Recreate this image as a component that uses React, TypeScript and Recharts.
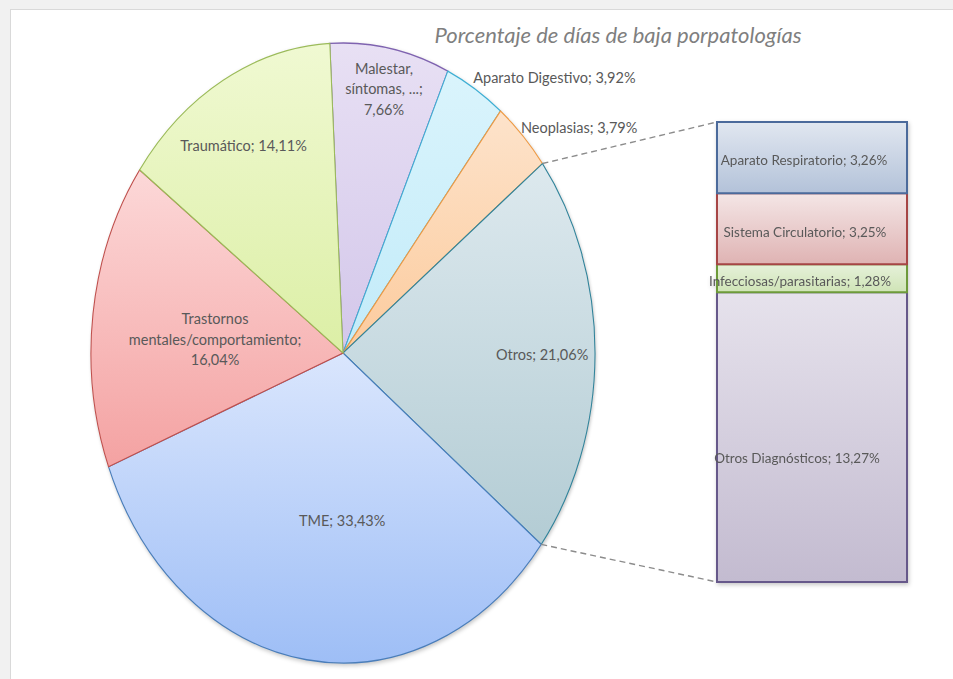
import { Bar, BarChart, Cell, LabelList, Pie, PieChart, XAxis, YAxis } from 'recharts'

// pie slices, clockwise from just left of 12 o'clock
const pieCategories = [
  'Malestar,\nsíntomas, ...',
  'Aparato Digestivo',
  'Neoplasias',
  'Otros',
  'TME',
  'Trastornos\nmentales/comportamiento',
  'Traumático',
]
const pieValues = [7.66, 3.92, 3.79, 21.06, 33.43, 16.04, 14.11]
const splitName = 'Otros'

// breakdown of "Otros", listed bottom-up as stacked
const barCategories = [
  'Otros Diagnósticos',
  'Infecciosas/parasitarias',
  'Sistema Circulatorio',
  'Aparato Respiratorio',
]
const barValues = [13.27, 1.28, 3.25, 3.26]

const title = 'Porcentaje de días de baja porpatologías'

const pieData = pieCategories.map((name, i) => ({ name, value: pieValues[i] }))
const barRow: Record<string, number | string> = { name: splitName }
barCategories.forEach((c, i) => {
  barRow[c] = barValues[i]
})
const barTotal = barValues.reduce((s, v) => s + v, 0)

const FONT = 'Lato, "Liberation Sans", sans-serif'
const TEXT = '#595959'
const CX = 343
const CY = 353
const R = 310
const SX = 0.813 // the pie is drawn squashed sideways
const BAR_LEFT = 717
const BAR_RIGHT = 907
const BAR_TOP = 122
const BAR_BOTTOM = 582
const PAD = 30

const pieStyles = [
  { top: '#e8e0f4', bottom: '#d3c7ea', stroke: '#7f63b0' },
  { top: '#daf4fc', bottom: '#c2ebf9', stroke: '#3eafd4' },
  { top: '#fde3cb', bottom: '#fccb9d', stroke: '#ef9a43' },
  { top: '#dde9ee', bottom: '#b3ccd4', stroke: '#31849b' },
  { top: '#dae6fd', bottom: '#9ebef6', stroke: '#4a7ebb' },
  { top: '#fcd8d8', bottom: '#f4a2a2', stroke: '#c0504d' },
  { top: '#f0f9d2', bottom: '#dcefa6', stroke: '#9bbb59' },
]

const pieLabelPlacement = [
  { r: 0.87, anchor: 'middle', dx: 0, dy: 0 },
  { r: 1.046, anchor: 'start', dx: -8, dy: 0 },
  { r: 1.04, anchor: 'start', dx: -9, dy: 0 },
  { r: 0.79, anchor: 'middle', dx: 0, dy: 0 },
  { r: 0.545, anchor: 'middle', dx: 19, dy: 0 },
  { r: 0.512, anchor: 'middle', dx: 0, dy: 6 },
  { r: 0.763, anchor: 'middle', dx: -8, dy: 0 },
]

const barStyles = [
  { top: '#e6e2ec', bottom: '#c3bbd0', stroke: '#66588a' },
  { top: '#e6f1da', bottom: '#cfe4b6', stroke: '#6d9a3a' },
  { top: '#f4e6e6', bottom: '#dfb3b3', stroke: '#a64545' },
  { top: '#e1e7f0', bottom: '#b3c2d9', stroke: '#4b6a9b' },
]
const barLabelOffset = [
  { dx: -15, dy: 21 },
  { dx: -12, dy: 3 },
  { dx: -7, dy: 3 },
  { dx: -8, dy: 2 },
]

const pct = (v: number) => `${v.toFixed(2).replace('.', ',')}%`

function renderPieLabel(props: any) {
  const { cx, cy, midAngle, outerRadius, index, payload, startAngle, endAngle } = props
  const place = pieLabelPlacement[index]
  const rad = Math.PI / 180
  const r = outerRadius * place.r
  const x = cx + SX * r * Math.cos(-midAngle * rad) + place.dx
  const y = cy + r * Math.sin(-midAngle * rad) + place.dy
  const name: string = payload.name
  const parts = name.split('\n')
  let lines: string[]
  if (parts.length > 1) {
    lines = [...parts.slice(0, -1), parts[parts.length - 1] + ';', pct(payload.value)]
  } else {
    lines = [`${name}; ${pct(payload.value)}`]
  }
  const lh = 20.5
  let connectors = null
  if (name === splitName) {
    const p1 = {
      x: cx + SX * outerRadius * Math.cos(-startAngle * rad),
      y: cy + outerRadius * Math.sin(-startAngle * rad),
    }
    const p2 = {
      x: cx + SX * outerRadius * Math.cos(-endAngle * rad),
      y: cy + outerRadius * Math.sin(-endAngle * rad),
    }
    connectors = (
      <g stroke='#8c8c8c' strokeWidth={1.4} strokeDasharray='6 4'>
        <line x1={p1.x} y1={p1.y} x2={BAR_LEFT} y2={BAR_TOP} />
        <line x1={p2.x} y1={p2.y} x2={BAR_LEFT} y2={BAR_BOTTOM} />
      </g>
    )
  }
  return (
    <g key={`lbl-${index}`}>
      {connectors}
      <text
        x={x}
        y={y}
        textAnchor={place.anchor}
        dominantBaseline='central'
        fill={TEXT}
        fontSize={14.5}
        fontFamily={FONT}
      >
        {lines.map((line, i) => (
          <tspan key={i} x={x} dy={i === 0 ? -((lines.length - 1) / 2) * lh : lh}>
            {line}
          </tspan>
        ))}
      </text>
    </g>
  )
}

function barLabel(i: number) {
  return (props: any) => {
    const vb = props.viewBox ?? props
    const x = Number(vb.x) + Number(vb.width) / 2 + barLabelOffset[i].dx
    const y = Number(vb.y) + Number(vb.height) / 2 + barLabelOffset[i].dy
    return (
      <text
        x={x}
        y={y}
        textAnchor='middle'
        dominantBaseline='central'
        fill={TEXT}
        fontSize={13.5}
        fontFamily={FONT}
      >
        {`${barCategories[i]}; ${pct(Number(props.value))}`}
      </text>
    )
  }
}

export default function App() {
  return (
    <div
      style={{
        position: 'absolute',
        left: 0,
        top: 0,
        width: 953,
        height: 679,
        overflow: 'hidden',
        background: '#f1f1f1',
        fontFamily: FONT,
      }}
    >
      <div
        style={{
          position: 'absolute',
          left: 10,
          top: 9,
          width: 960,
          height: 700,
          background: '#ffffff',
          border: '1px solid #d9d9d9',
        }}
      />
      <div
        style={{
          position: 'absolute',
          left: 0,
          top: 0,
          width: 700,
          height: 679,
          transform: `scaleX(${SX})`,
          transformOrigin: `${CX}px 0px`,
          filter: 'drop-shadow(1px 2px 2px rgba(0,0,0,0.22))',
        }}
      >
        <PieChart width={700} height={679} margin={{ top: 0, right: 0, bottom: 0, left: 0 }}>
          <defs>
            {pieStyles.map((s, i) => (
              <linearGradient key={i} id={`pie-g-${i}`} x1='0' y1='0' x2='0' y2='1'>
                <stop offset='0%' stopColor={s.top} />
                <stop offset='100%' stopColor={s.bottom} />
              </linearGradient>
            ))}
          </defs>
          <Pie
            data={pieData}
            dataKey='value'
            nameKey='name'
            cx={CX}
            cy={CY}
            outerRadius={R}
            startAngle={93}
            endAngle={-267}
            isAnimationActive={false}
            labelLine={false}
          >
            {pieData.map((d, i) => (
              <Cell
                key={d.name}
                fill={`url(#pie-g-${i})`}
                stroke={pieStyles[i].stroke}
                strokeWidth={1.3}
              />
            ))}
          </Pie>
        </PieChart>
      </div>
      <div
        style={{
          position: 'absolute',
          left: BAR_LEFT - PAD,
          top: BAR_TOP - 2,
          filter: 'drop-shadow(1px 2px 2px rgba(0,0,0,0.22))',
        }}
      >
        <BarChart
          width={BAR_RIGHT - BAR_LEFT + PAD * 2}
          height={BAR_BOTTOM - BAR_TOP + 4}
          data={[barRow]}
          margin={{ top: 2, bottom: 2, left: PAD, right: PAD }}
          barCategoryGap={0}
          barGap={0}
        >
          <defs>
            {barStyles.map((s, i) => (
              <linearGradient key={i} id={`bar-g-${i}`} x1='0' y1='0' x2='0' y2='1'>
                <stop offset='0%' stopColor={s.top} />
                <stop offset='100%' stopColor={s.bottom} />
              </linearGradient>
            ))}
          </defs>
          <XAxis dataKey='name' type='category' hide />
          <YAxis type='number' domain={[0, barTotal]} hide />
          {barCategories.map((c, i) => (
            <Bar
              key={c}
              dataKey={c}
              stackId='otros'
              fill={`url(#bar-g-${i})`}
              stroke={barStyles[i].stroke}
              strokeWidth={2}
              isAnimationActive={false}
            >
              <LabelList dataKey={c} content={barLabel(i)} />
            </Bar>
          ))}
        </BarChart>
      </div>
      <div style={{ position: 'absolute', left: 0, top: 0 }}>
        <PieChart width={953} height={679} margin={{ top: 0, right: 0, bottom: 0, left: 0 }}>
          <Pie
            data={pieData}
            dataKey='value'
            nameKey='name'
            cx={CX}
            cy={CY}
            outerRadius={R}
            startAngle={93}
            endAngle={-267}
            fill='none'
            stroke='none'
            isAnimationActive={false}
            labelLine={false}
            label={renderPieLabel}
          />
        </PieChart>
      </div>
      <div
        style={{
          position: 'absolute',
          left: 418,
          top: 20,
          width: 400,
          textAlign: 'center',
          fontStyle: 'italic',
          fontSize: 22,
          color: '#7f7f7f',
          lineHeight: '30px',
        }}
      >
        {title}
      </div>
    </div>
  )
}
